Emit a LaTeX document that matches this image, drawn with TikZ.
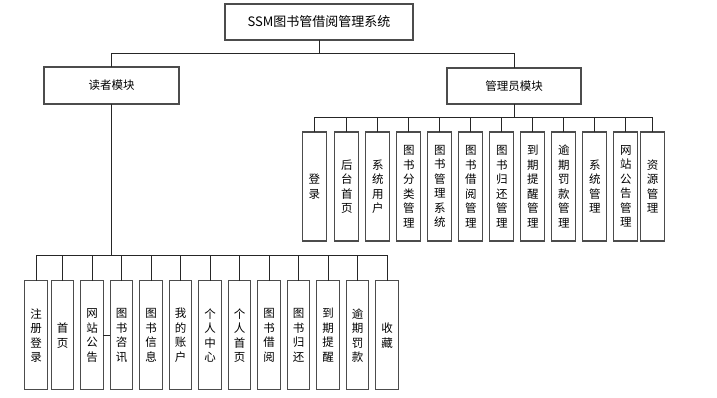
\documentclass[tikz,border=0pt]{standalone}
\usepackage{fontspec}
\setmainfont{Noto Sans CJK SC}
\usetikzlibrary{positioning}

\begin{document}
\begin{tikzpicture}[node distance=7pt,
    box/.style={rectangle, draw=black!70, line width=1.1pt, fill=white, outer sep=0pt, text centered, font=\fontsize{11.5}{14}\selectfont},
    rleaf/.style={box, minimum width=22.5pt, minimum height=109pt, inner sep=0pt, align=center, font=\fontsize{11.5}{14.5}\selectfont},
    aleaf/.style={rleaf, minimum width=24pt},
    link/.style={draw=black!85, line width=0.9pt}
]
    \useasboundingbox (0,0) rectangle (717pt,-398pt);

    \node [box, minimum width=188pt, minimum height=36pt, font=\fontsize{13}{15}\selectfont] (sys) at (319pt,-22pt) {SSM图书管借阅管理系统};
    \node [box, minimum width=135pt, minimum height=37pt] (reader) at (111.5pt,-85.5pt) {读者模块};
    \node [box, minimum width=134pt, minimum height=36pt] (admin) at (514pt,-86pt) {管理员模块};

    % Admin functions
    \node [aleaf] (a1) at (314.3pt,-186.5pt) {登\\录};
    \node [aleaf, right=8.6pt of a1] (a2) {后\\台\\首\\页};
    \node [aleaf, right=of a2] (a3) {系\\统\\用\\户};
    \node [aleaf, right=of a3] (a4) {图\\书\\分\\类\\管\\理};
    \node [aleaf, right=of a4] (a5) {图\\书\\管\\理\\系\\统};
    \node [aleaf, right=of a5] (a6) {图\\书\\借\\阅\\管\\理};
    \node [aleaf, right=of a6] (a7) {图\\书\\归\\还\\管\\理};
    \node [aleaf, right=of a7] (a8) {到\\期\\提\\醒\\管\\理};
    \node [aleaf, right=of a8] (a9) {逾\\期\\罚\\款\\管\\理};
    \node [aleaf, right=of a9] (a10) {系\\统\\管\\理};
    \node [aleaf, right=of a10] (a11) {网\\站\\公\\告\\管\\理};
    \node [aleaf, right=2.6pt of a11] (a12) {资\\源\\管\\理};

    % Reader functions
    \node [rleaf] (r1) at (36pt,-335.4pt) {注\\册\\登\\录};
    \node [rleaf, right=4pt of r1] (r2) {首\\页};
    \node [rleaf, right=of r2] (r3) {网\\站\\公\\告};
    \node [rleaf, right=of r3] (r4) {图\\书\\咨\\讯};
    \node [rleaf, right=of r4] (r5) {图\\书\\信\\息};
    \node [rleaf, right=of r5] (r6) {我\\的\\账\\户};
    \node [rleaf, right=of r6] (r7) {个\\人\\中\\心};
    \node [rleaf, right=of r7] (r8) {个\\人\\首\\页};
    \node [rleaf, right=of r8] (r9) {图\\书\\借\\阅};
    \node [rleaf, right=of r9] (r10) {图\\书\\归\\还};
    \node [rleaf, right=of r10] (r11) {到\\期\\提\\醒};
    \node [rleaf, right=of r11] (r12) {逾\\期\\罚\\款};
    \node [rleaf, right=of r12] (r13) {收\\藏};

    \coordinate (abus) at (0,-117pt);
    \coordinate (rbus) at (0,-255pt);

    % Connections
    \path [link] (sys) -- ++(0,-31.5pt);
    \path [link] (reader.north) -- ++(0,13.5pt) -| (admin.north);
    \path [link] (admin) -- (admin |- abus);
    \path [link] (a1 |- abus) -- (a12 |- abus);
    \foreach \n in {a1,a2,a3,a4,a5,a6,a7,a8,a9,a10,a11,a12}
        \path [link] (\n) -- (\n |- abus);
    \path [link] (reader) -- (reader |- rbus);
    \path [link] (r1 |- rbus) -- (r13 |- rbus);
    \foreach \n in {r1,r2,r3,r4,r5,r6,r7,r8,r9,r10,r11,r12,r13}
        \path [link] (\n) -- (\n |- rbus);
    \path [link] (r3) -- (r4);
\end{tikzpicture}
\end{document}
